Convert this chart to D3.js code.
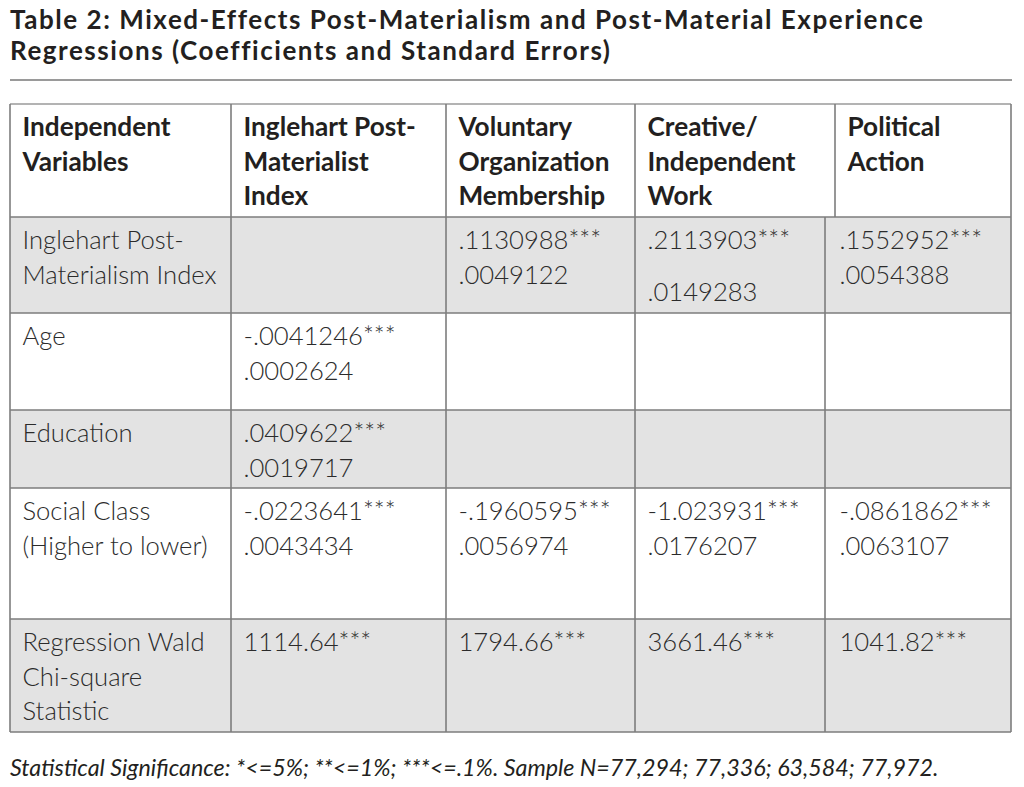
<!DOCTYPE html>
<html>
<head>
<meta charset="utf-8">
<script src="https://cdn.jsdelivr.net/npm/d3@7"></script>
<style>
  html, body { margin: 0; padding: 0; background: #fff; }
  svg { display: block; }
</style>
</head>
<body>
<svg id="chart" width="1024" height="787"></svg>
<script>
// ---------- DATA ----------
const titleLines = [
  "Table 2: Mixed-Effects Post-Materialism and Post-Material Experience",
  "Regressions (Coefficients and Standard Errors)"
];
const headers = [
  ["Independent", "Variables"],
  ["Inglehart Post-", "Materialist", "Index"],
  ["Voluntary", "Organization", "Membership"],
  ["Creative/", "Independent", "Work"],
  ["Political", "Action"]
];
const rowLabels = [
  ["Inglehart Post-", "Materialism Index"],
  ["Age"],
  ["Education"],
  ["Social Class", "(Higher to lower)"],
  ["Regression Wald", "Chi-square", "Statistic"]
];
// columns: Inglehart index, Voluntary org, Creative work, Political action
const inglehartIndex = [[], ["-.0041246***", ".0002624"], [".0409622***", ".0019717"], ["-.0223641***", ".0043434"], ["1114.64***"]];
const voluntaryOrg   = [[".1130988***", ".0049122"], [], [], ["-.1960595***", ".0056974"], ["1794.66***"]];
const creativeWork   = [[".2113903***", ".0149283"], [], [], ["-1.023931***", ".0176207"], ["3661.46***"]];
const politicalAct   = [[".1552952***", ".0054388"], [], [], ["-.0861862***", ".0063107"], ["1041.82***"]];
const footnote = "Statistical Significance: *<=5%; **<=1%; ***<=.1%. Sample N=77,294; 77,336; 63,584; 77,972.";

// ---------- LAYOUT ----------
const svg = d3.select("#chart");
const FONT = "Lato, 'Open Sans', sans-serif";
const valueCols = [inglehartIndex, voluntaryOrg, creativeWork, politicalAct];

// piecewise scales for column edges and row edges
const xHead = d3.scaleLinear().domain([0, 1, 2, 3, 4, 5]).range([10, 231, 446, 635, 835, 1011]);
const xBody = d3.scaleLinear().domain([0, 1, 2, 3, 4, 5]).range([10, 231, 446, 635, 825, 1011]);
const yRow  = d3.scaleLinear().domain([0, 1, 2, 3, 4, 5, 6]).range([104, 217, 313, 410, 488, 619, 732]);

const shaded = new Set([0, 2, 4]); // body row indices
const lineH = 34.5, firstBase = 32, padX = 12.5;

function measure(text, weight, style, size) {
  const t = svg.append("text").attr("font-family", FONT).attr("font-weight", weight)
    .attr("font-style", style).attr("font-size", size).text(text);
  const w = t.node().getComputedTextLength();
  t.remove();
  return w;
}
function fitSize(text, weight, style, target) {
  return 100 * target / measure(text, weight, style, 100);
}
const titleSize = 26;
const titleSpacing = (912 - measure(titleLines[0], 700, "normal", titleSize)) / (titleLines[0].length - 1);
const headSize  = fitSize("Organization", 700, "normal", 151);
const bodySize  = fitSize("Materialism Index", 300, "normal", 194);
const footSize  = fitSize(footnote, 400, "italic", 929);

// ---------- TITLE ----------
svg.append("g").selectAll("text").data(titleLines).join("text")
  .attr("x", 10).attr("y", (d, i) => 28.5 + i * 31.5)
  .attr("font-family", FONT).attr("font-weight", 700).attr("font-size", titleSize)
  .attr("letter-spacing", titleSpacing)
  .attr("fill", "#231f20").text(d => d);
svg.append("line").attr("x1", 10).attr("x2", 1012).attr("y1", 80).attr("y2", 80)
  .attr("stroke", "#9a9a9a").attr("stroke-width", 2);

// ---------- BACKGROUNDS ----------
svg.append("g").selectAll("rect").data(rowLabels.map((d, i) => i).filter(i => shaded.has(i))).join("rect")
  .attr("x", xBody(0)).attr("width", xBody(5) - xBody(0))
  .attr("y", i => yRow(i + 1)).attr("height", i => yRow(i + 2) - yRow(i + 1))
  .attr("fill", "#e3e3e3");

// ---------- HEADER TEXT ----------
const gHead = svg.append("g");
headers.forEach((lines, c) => {
  gHead.append("text")
    .attr("font-family", FONT).attr("font-weight", 700).attr("font-size", headSize).attr("fill", "#231f20")
    .selectAll("tspan").data(lines).join("tspan")
    .attr("x", xHead(c) + padX).attr("y", (d, i) => yRow(0) + firstBase + i * lineH)
    .text(d => d);
});

// ---------- BODY TEXT ----------
const gBody = svg.append("g");
function cellText(lines, x, top, extraSecond) {
  gBody.append("text")
    .attr("font-family", FONT).attr("font-weight", 300).attr("font-size", bodySize).attr("fill", "#2b2b2b")
    .selectAll("tspan").data(lines).join("tspan")
    .attr("x", x).attr("y", (d, i) => top + firstBase + i * lineH + (i > 0 ? extraSecond : 0))
    .text(d => d);
}
rowLabels.forEach((lines, r) => cellText(lines, xBody(0) + padX, yRow(r + 1), 0));
valueCols.forEach((col, c) => {
  col.forEach((lines, r) => {
    const extra = (c === 2 && r === 0) ? 17 : 0;   // wider gap in the Creative/Independent cell
    cellText(lines, xBody(c + 1) + padX + (c === 3 ? 2 : 0), yRow(r + 1), extra);
  });
});

// ---------- GRID LINES ----------
const gGrid = svg.append("g").attr("stroke", "#7d7d7d").attr("stroke-width", 1.6).attr("fill", "none");
gGrid.selectAll("line.h").data(d3.range(0, 7)).join("line").attr("class", "h")
  .attr("x1", xBody(0)).attr("x2", xBody(5))
  .attr("y1", d => yRow(d)).attr("y2", d => yRow(d))
  .attr("stroke", d => d === 0 ? "#9a9a9a" : null);
gGrid.selectAll("line.vh").data(d3.range(0, 6)).join("line").attr("class", "vh")
  .attr("x1", d => xHead(d)).attr("x2", d => xHead(d))
  .attr("y1", yRow(0)).attr("y2", yRow(1));
gGrid.selectAll("line.vb").data(d3.range(0, 6)).join("line").attr("class", "vb")
  .attr("x1", d => xBody(d)).attr("x2", d => xBody(d))
  .attr("y1", yRow(1)).attr("y2", yRow(6));

// ---------- FOOTNOTE ----------
svg.append("text").attr("x", 10).attr("y", 776)
  .attr("font-family", FONT).attr("font-style", "italic").attr("font-weight", 400)
  .attr("font-size", footSize).attr("fill", "#231f20").text(footnote);
</script>
</body>
</html>
